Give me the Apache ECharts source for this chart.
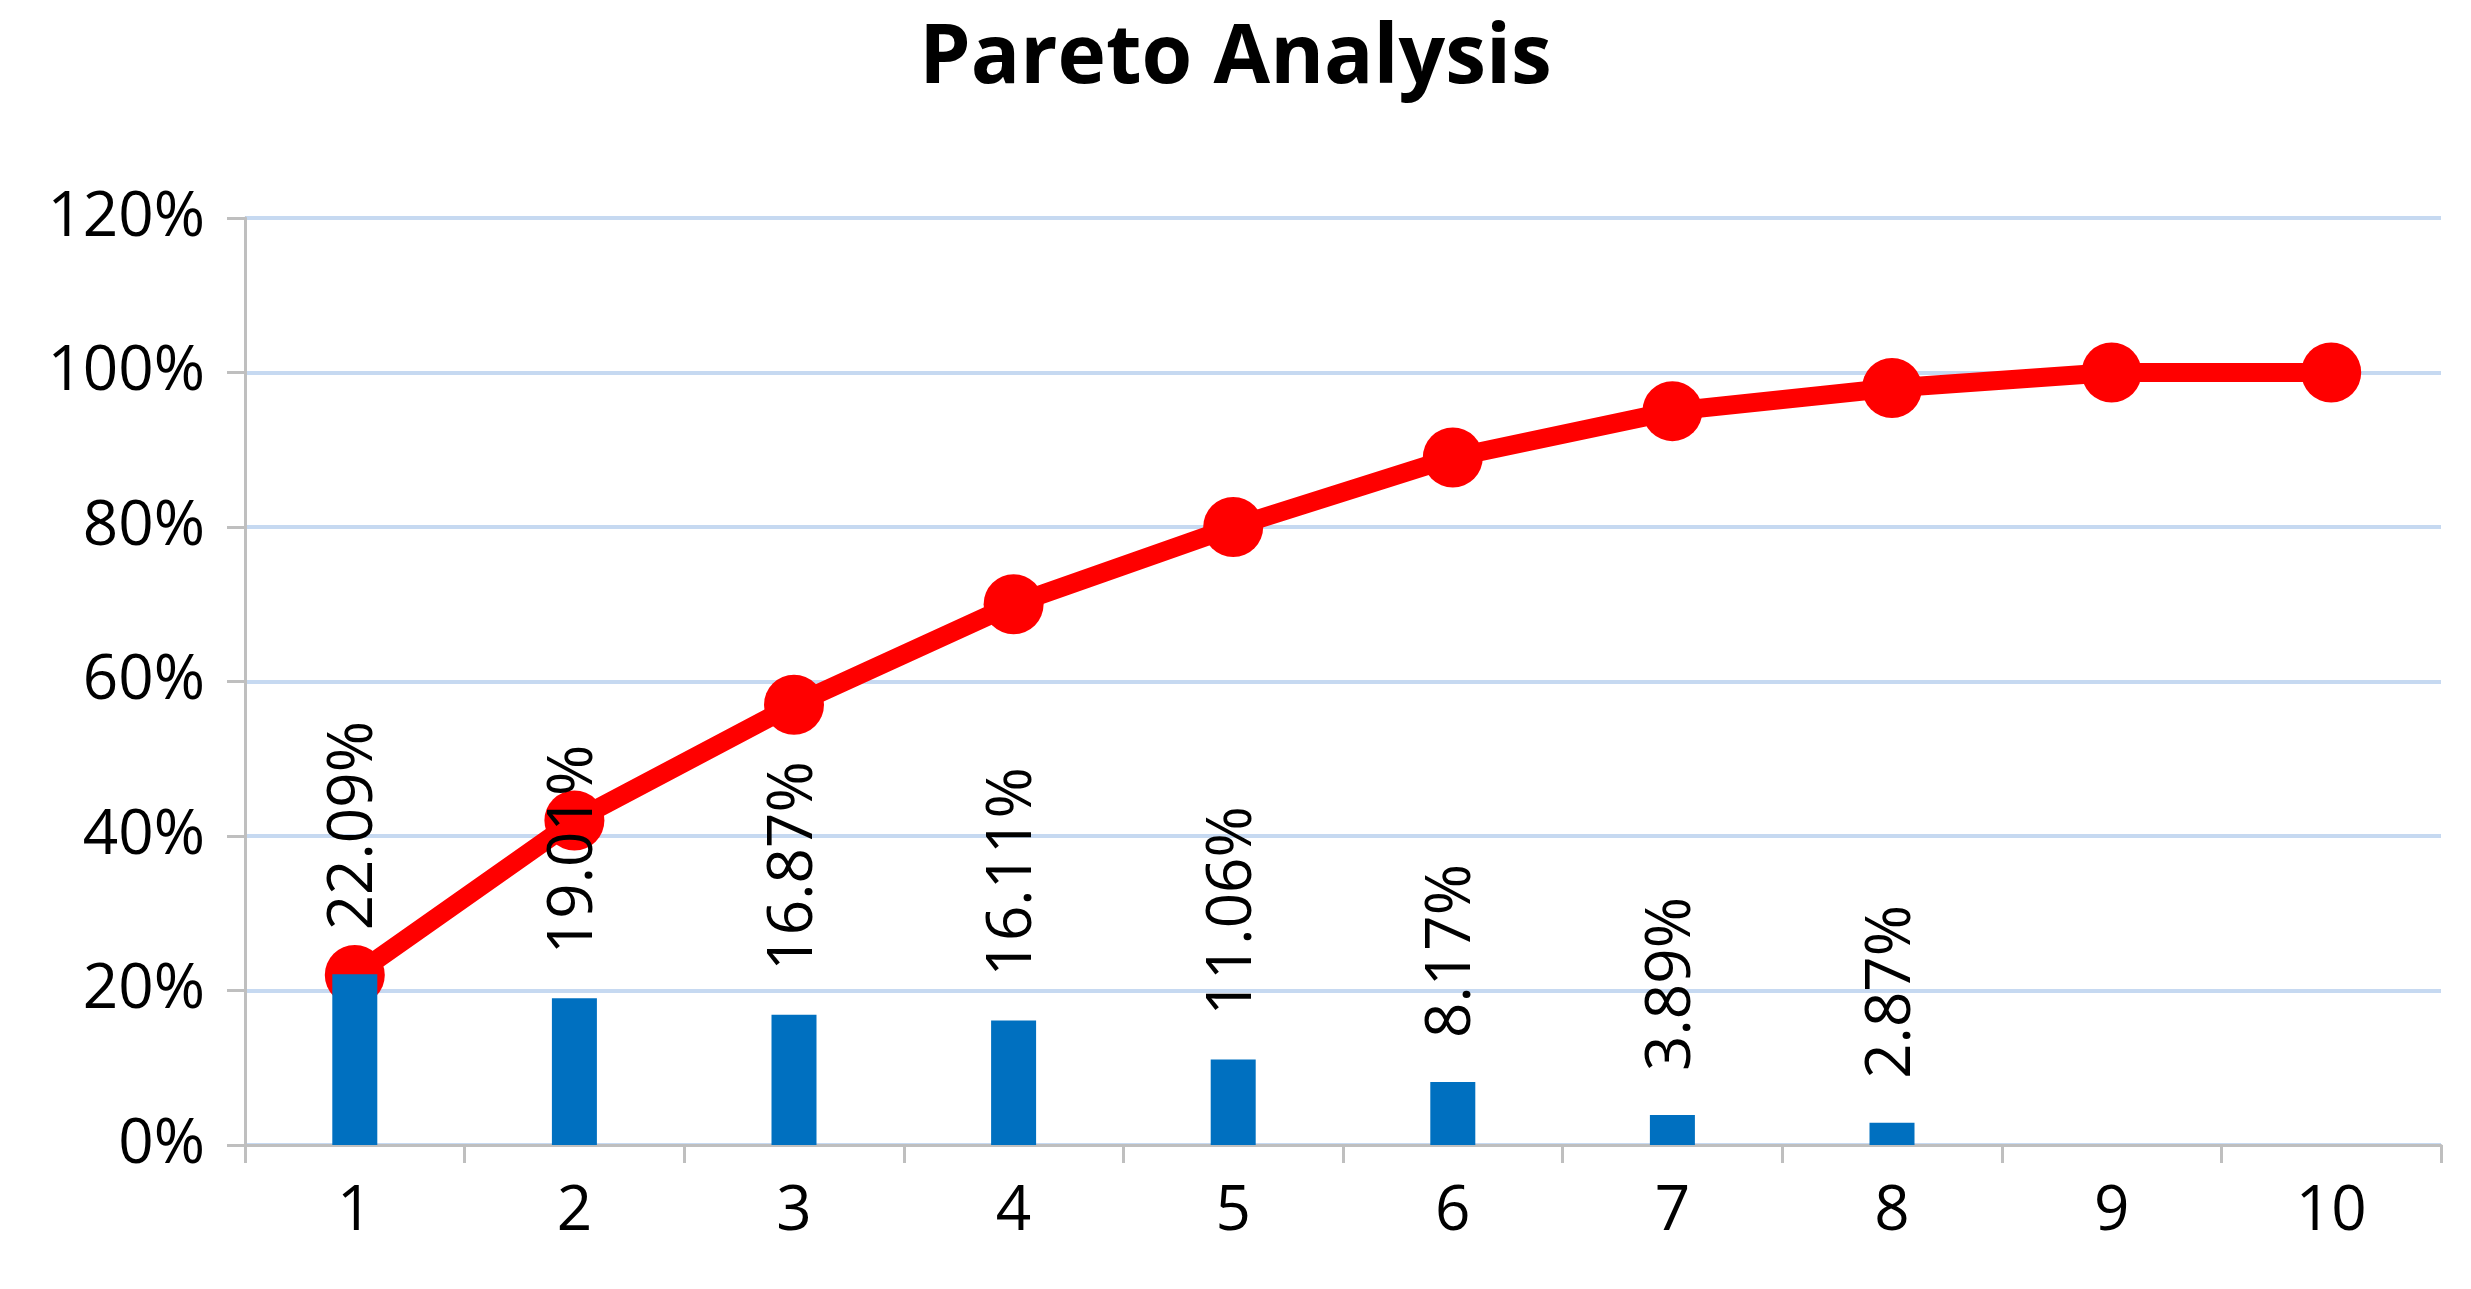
<!DOCTYPE html>
<html><head><meta charset="utf-8">
<script src="https://cdn.jsdelivr.net/npm/echarts@6/dist/echarts.min.js"></script>
<style>html,body{margin:0;padding:0;background:#fff}#c{width:2471px;height:1289px}</style>
</head><body><div id="c"></div>
<script>
const categories = ['1','2','3','4','5','6','7','8','9','10'];
const shares = [22.09, 19.01, 16.87, 16.11, 11.06, 8.17, 3.89, 2.87, null, null];
const cumulative = [22, 42, 57, 70, 80, 89, 95, 98, 100, 100];
const yTicks = [0, 20, 40, 60, 80, 100, 120];

const font = '"Open Sans", sans-serif';
const chart = echarts.init(document.getElementById('c'));
chart.setOption({
  animation: false,
  title: { text: 'Pareto Analysis', left: 'center', top: 14,
    textStyle: { fontFamily: font, fontWeight: 'bold', fontSize: 82, color: '#000' } },
  grid: { left: 245, right: 30, top: 218, bottom: 144 },
  xAxis: { type: 'category', data: categories, boundaryGap: true,
    axisLine: { lineStyle: { color: '#bfbfbf', width: 3 } },
    axisTick: { show: true, length: 18, lineStyle: { color: '#bfbfbf', width: 3 } },
    axisLabel: { fontFamily: font, fontSize: 62, color: '#000', margin: 36 } },
  yAxis: { type: 'value', min: yTicks[0], max: yTicks[yTicks.length-1], interval: 20,
    axisLine: { show: true, lineStyle: { color: '#bfbfbf', width: 3 } },
    axisTick: { show: true, length: 18, lineStyle: { color: '#bfbfbf', width: 3 } },
    splitLine: { lineStyle: { color: '#c6d9f1', width: 4 } },
    axisLabel: { fontFamily: font, fontSize: 62, color: '#000', margin: 40, formatter: v => v + '%' } },
  series: [
    { type: 'bar', data: shares, barWidth: 45, itemStyle: { color: '#0070c0' },
      label: { show: true, position: 'top', rotate: 90, align: 'left', verticalAlign: 'middle',
        distance: 44, fontFamily: font, fontSize: 62, color: '#000',
        formatter: p => p.value == null ? '' : p.value.toFixed(2) + '%' } },
    { type: 'line', data: cumulative, symbol: 'circle', symbolSize: 60,
      lineStyle: { color: '#ff0000', width: 19 }, itemStyle: { color: '#ff0000' }, z: 1 }
  ]
});
</script></body></html>
